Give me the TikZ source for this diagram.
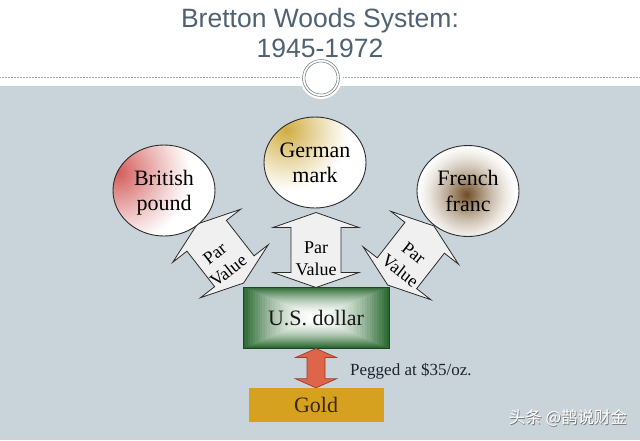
\documentclass[tikz,border=0pt]{standalone}
\usepackage{fontspec}
\setmainfont{Liberation Serif}
\newfontfamily\titlefont{Liberation Sans}
\newfontfamily\cjkfont{Noto Sans CJK SC}
\usepackage{tikz}
\usetikzlibrary{calc,shapes.geometric}
\usepackage{xcolor}
\definecolor{TitleSlate}{HTML}{4F6273}
\definecolor{BandGray}{HTML}{C9D3DA}
\definecolor{RuleGray}{HTML}{9EA6AC}
\definecolor{CoinEdge}{HTML}{2B2B2B}
\definecolor{PoundRed}{HTML}{D25A58}
\definecolor{MarkGold}{HTML}{D0AC40}
\definecolor{FrancBrown}{HTML}{6E4A1E}
\definecolor{ParFill}{HTML}{F0F0F0}
\definecolor{BoxGreen}{HTML}{2A6830}
\definecolor{BoxEdge}{HTML}{1D4722}
\definecolor{PegRed}{HTML}{DE6549}
\definecolor{PegEdge}{HTML}{9A3E2A}
\definecolor{GoldFill}{HTML}{D5A11E}
\definecolor{GoldText}{HTML}{3A2410}
\definecolor{DarkInk}{HTML}{1E2230}
\tikzset{
  coin/.style={ellipse, draw=CoinEdge, line width=0.9pt, fill=white, minimum width=102pt, minimum height=91pt,
    inner sep=0pt, align=center, text depth=0pt, text=black, font=\fontsize{22}{25.5}\selectfont},
  glow/.style n args={4}{path picture={
    \foreach \i in {0,...,29} {
      \pgfmathsetmacro\f{\i/29}
      \pgfmathsetmacro\g{100*\f^#4}
      \pgfmathsetmacro\r{#3*(1-\f)+0.6}
      \fill[#1!\g!white] ([shift={#2}]path picture bounding box.center) circle[radius=\r pt];
    }}},
  parbox/.style={draw=CoinEdge, line width=0.8pt, fill=ParFill, line join=miter},
  partext/.style={align=center, inner sep=0pt, text depth=0pt, text=black, font=\fontsize{18}{22}\selectfont}
}

\begin{document}
\begin{tikzpicture}[x=1pt,y=-1pt]
\useasboundingbox (0,0) rectangle (640,440);
\def\tipl{37.5}
\def\headb{22.5}
\def\headw{43}
\def\shaftw{25}
% slide background
\fill[white] (0,0) rectangle (640,440);
\fill[BandGray] (0,86) rectangle (640,440);
\draw[RuleGray, densely dotted, line width=0.5pt] (0,77) -- (299,77) (343,77) -- (640,77);
\fill[white] (321,78) circle[radius=21pt];
\draw[RuleGray!80!black, line width=0.6pt] (321,78) circle[radius=18.5pt] (321,78) circle[radius=16pt];
\node[anchor=base, font=\titlefont\fontsize{26.5}{30}\selectfont, text=TitleSlate] (title) at (320,27) {Bretton Woods System:};
\node[anchor=base, font=\titlefont\fontsize{26.5}{30}\selectfont, text=TitleSlate] (years) at (320,57) {1945-1972};
% par value arrows
\foreach \cx/\cy/\ang in {220.5/253.5/-52,316/250/90,410.8/255.5/52} {
  \begin{scope}[shift={(\cx,\cy)},rotate=\ang]
    \draw[parbox] (\tipl,0) -- (\headb,\headw) -- (\headb,\shaftw) -- (-\headb,\shaftw) -- (-\headb,\headw) -- (-\tipl,0)
      -- (-\headb,-\headw) -- (-\headb,-\shaftw) -- (\headb,-\shaftw) -- (\headb,-\headw) -- cycle;
  \end{scope}
}
\foreach \cx/\cy/\rot/\nm in {221.5/262/38/parL,316/258.5/0/parM,407/262/-38/parR} {
  \node[partext, rotate=\rot] (\nm) at (\cx,\cy) {Par\\Value};
}
% currencies
\node[coin, glow={PoundRed}{(-46,-18)}{74}{1.1}] (pound) at (164,190.5) {British\\pound};
\node[coin, glow={MarkGold}{(-28,-32)}{62}{1.1}] (mark) at (315,162.5) {German\\mark};
\node[coin, glow={FrancBrown}{(-1,4)}{52}{1.5}] (franc) at (468,191) {French\\franc};
% dollar box
\node[draw=BoxEdge, line width=1pt, minimum width=146pt, minimum height=61pt, inner sep=0pt, text depth=0pt,
  text=black!90, font=\fontsize{22}{25.5}\selectfont,
  path picture={
    \foreach \i in {0,...,29} {
      \pgfmathsetmacro\f{\i/30}
      \pgfmathsetmacro\g{100*(1-\f)^1.8}
      \fill[BoxGreen!\g!white] ($(path picture bounding box.north west)!\f!(path picture bounding box.center)$)
        rectangle ($(path picture bounding box.south east)!\f!(path picture bounding box.center)$);
    }
  }] (dollar) at (316,317.5) {U.S. dollar};
% gold and peg
\node[fill=GoldFill, minimum width=135pt, minimum height=34pt, inner sep=0pt, text depth=0pt,
  text=GoldText, font=\fontsize{22}{25.5}\selectfont] (gold) at (316,405) {Gold};
\coordinate (pegtop) at (dollar.south);
\coordinate (pegbot) at (dollar.south |- gold.north);
\draw[fill=PegRed, draw=PegEdge, line width=0.7pt] (pegtop) -- ($(pegtop)+(20.5,9)$) -- ($(pegtop)+(9,9)$)
  -- ($(pegbot)+(9,-9)$) -- ($(pegbot)+(20.5,-9)$) -- (pegbot) -- ($(pegbot)+(-20.5,-9)$) -- ($(pegbot)+(-9,-9)$)
  -- ($(pegtop)+(-9,9)$) -- ($(pegtop)+(-20.5,9)$) -- cycle;
\node[anchor=base west, inner sep=0pt, text=DarkInk, font=\fontsize{17}{20}\selectfont] (peg) at (350,375) {Pegged at \$35/oz.};
% watermark
\node[text=black!55, font=\cjkfont\fontsize{16.5}{18}\selectfont] (markshade) at (568.8,418.8) {头条 @鹊说财金};
\node[text=white, font=\cjkfont\fontsize{16.5}{18}\selectfont] (watermark) at (568,418) {头条 @鹊说财金};
\end{tikzpicture}
\end{document}
